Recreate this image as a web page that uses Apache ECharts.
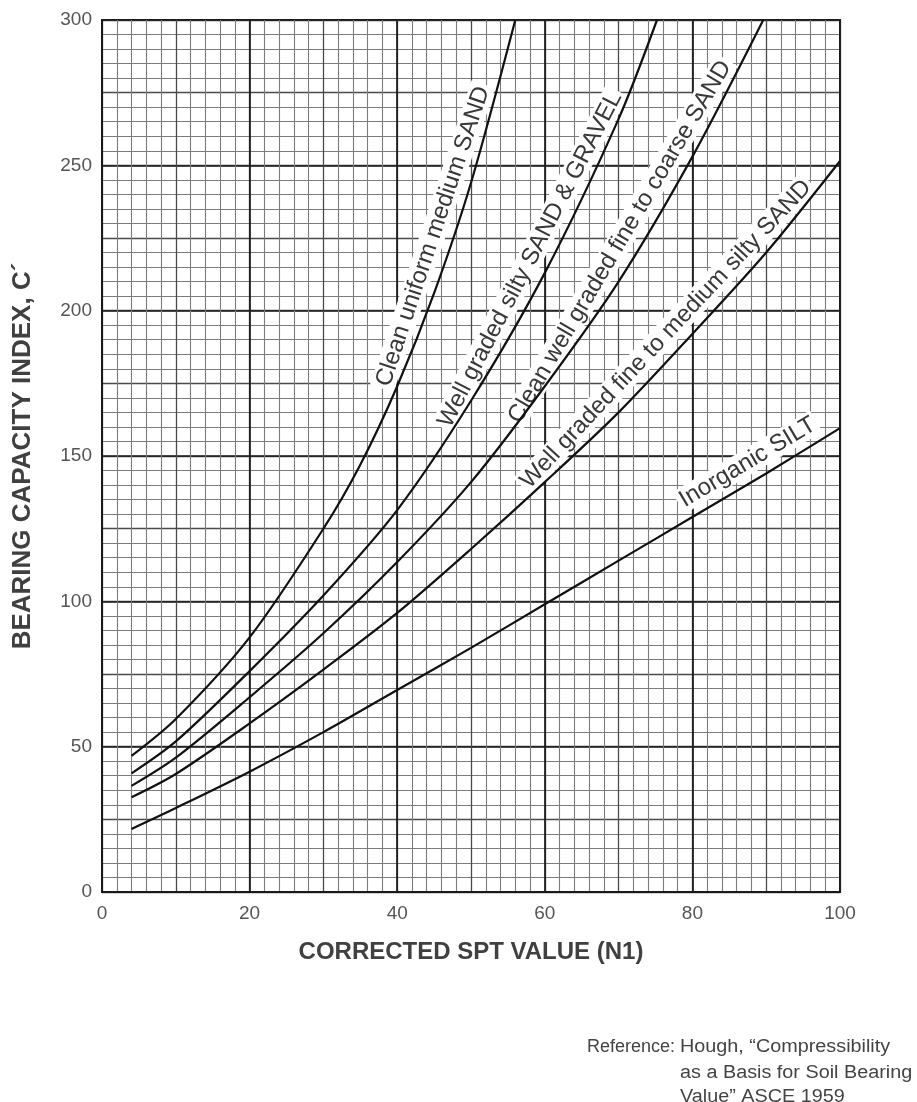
<!DOCTYPE html>
<html>
<head>
<meta charset="utf-8">
<script src="https://cdn.jsdelivr.net/npm/echarts@6/dist/echarts.min.js"></script>
<style>
html,body{margin:0;padding:0;background:#fff;}
#chart{width:917px;height:1102px;}
</style>
</head>
<body>
<div id="chart"></div>
<script>
// ---- data ----
const xTicks = [0, 20, 40, 60, 80, 100];
const yTicks = [0, 50, 100, 150, 200, 250, 300];
const seriesNames = [
  'Clean uniform medium SAND',
  'Well graded silty SAND & GRAVEL',
  'Clean well graded fine to coarse SAND',
  'Well graded fine to medium silty SAND',
  'Inorganic SILT'
];
const cleanUniformSand = [[4,46.8],[10,59.5],[20,87.6],[30,125],[35,147],[40,174],[45,206],[50,244],[56,300]];
const siltySandGravel = [[4,40.8],[10,51.8],[20,76],[30,102],[40,131.4],[50,169],[60,213],[70,266],[75.2,300]];
const wellGradedCoarseSand = [[4,36.5],[10,46.2],[20,67],[30,89],[40,113.5],[50,141],[60,174],[70,210],[80,253],[89.6,300]];
const fineMediumSiltySand = [[4,32.6],[10,40.6],[20,58],[30,76.5],[40,96],[50,118],[60,141],[70,165],[80,192],[90,220],[100,251.5]];
const inorganicSilt = [[4,21.7],[10,28.9],[20,41.4],[30,55],[40,69.5],[50,84],[60,99],[70,114],[80,129],[90,144],[100,159.6]];
const allSeries = [cleanUniformSand, siltySandGravel, wellGradedCoarseSand, fineMediumSiltySand, inorganicSilt];
// where along each curve (x value) its label is centred
const labelAtX = [47.3, 60.3, 72.4, 78.3, 88.8];
const noteLines = ['Hough, \u201CCompressibility', 'as a Basis for Soil Bearing', 'Value\u201D ASCE 1959'];

const chart = echarts.init(document.getElementById('chart'), null, {renderer: 'canvas'});
const FONT = '"Liberation Sans", Arial, Helvetica, sans-serif';

const option = {
  animation: false,
  backgroundColor: '#fff',
  grid: {show: true, left: 102, top: 20, right: 77, bottom: 210, borderColor: '#1a1a1a', borderWidth: 2, backgroundColor: 'transparent'},
  xAxis: [
    { // fine grid
      type: 'value', min: 0, max: 100, interval: 10, position: 'top',
      axisLine: {show: false}, axisTick: {show: false}, axisLabel: {show: false},
      splitLine: {show: true, lineStyle: {color: '#4a4a4a', width: 1.3}},
      minorTick: {show: false, splitNumber: 5},
      minorSplitLine: {show: true, lineStyle: {color: '#7c7c7c', width: 1.1}}
    },
    { // major grid + labels
      type: 'value', min: 0, max: 100, interval: 20, position: 'bottom',
      axisLine: {show: true, lineStyle: {color: '#1a1a1a', width: 2}},
      axisTick: {show: false},
      axisLabel: {show: true, color: '#555', fontFamily: FONT, fontSize: 19, margin: 12,
        formatter: v => xTicks.includes(v) ? String(v) : ''},
      splitLine: {show: true, lineStyle: {color: '#1a1a1a', width: 1.7}},
      name: 'CORRECTED SPT VALUE (N1)', nameLocation: 'middle', nameGap: 48,
      nameTextStyle: {color: '#404040', fontFamily: FONT, fontSize: 24, fontWeight: 'bold'}
    }
  ],
  yAxis: [
    {
      type: 'value', min: 0, max: 300, interval: 25, position: 'right',
      axisLine: {show: false}, axisTick: {show: false}, axisLabel: {show: false},
      splitLine: {show: true, lineStyle: {color: '#4a4a4a', width: 1.3}},
      minorTick: {show: false, splitNumber: 5},
      minorSplitLine: {show: true, lineStyle: {color: '#7c7c7c', width: 1.1}}
    },
    {
      type: 'value', min: 0, max: 300, interval: 50, position: 'left',
      axisLine: {show: true, lineStyle: {color: '#1a1a1a', width: 2}},
      axisTick: {show: false},
      axisLabel: {show: true, color: '#555', fontFamily: FONT, fontSize: 19, margin: 10,
        formatter: v => yTicks.includes(v) ? String(v) : ''},
      splitLine: {show: true, lineStyle: {color: '#1a1a1a', width: 1.7}},
      name: 'BEARING CAPACITY INDEX, C\u00B4', nameLocation: 'middle', nameGap: 66,
      nameTextStyle: {color: '#404040', fontFamily: FONT, fontSize: 26, fontWeight: 'bold'}
    }
  ],
  series: allSeries.map((d, i) => ({
    name: seriesNames[i],
    type: 'line',
    xAxisIndex: 1, yAxisIndex: 1,
    data: d,
    smooth: 0.3,
    showSymbol: false,
    symbol: 'none',
    lineStyle: {color: '#111', width: 2.2},
    z: 6
  }))
};
chart.setOption(option);

function interpY(data, x) {
  for (let i = 0; i < data.length - 1; i++) {
    const a = data[i], b = data[i + 1];
    if (x >= a[0] && x <= b[0]) {
      const t = (x - a[0]) / (b[0] - a[0]);
      return a[1] + t * (b[1] - a[1]);
    }
  }
  return data[data.length - 1][1];
}

const graphics = [];
allSeries.forEach((d, i) => {
  const x = labelAtX[i];
  const toPx = v => chart.convertToPixel({xAxisIndex: 1, yAxisIndex: 1}, [v, interpY(d, v)]);
  const p = toPx(x), p1 = toPx(x - 2), p2 = toPx(Math.min(x + 2, d[d.length - 1][0]));
  const theta = Math.atan2(-(p2[1] - p1[1]), p2[0] - p1[0]);
  const gap = 7;
  const ux = -Math.sin(theta), uy = -Math.cos(theta);
  graphics.push({
    type: 'text',
    x: p[0] + ux * gap,
    y: p[1] + uy * gap,
    rotation: theta,
    z: 4,
    style: {
      text: seriesNames[i],
      fill: '#383838',
      font: '24px ' + FONT,
      align: 'center',
      verticalAlign: 'bottom',
      backgroundColor: '#fff',
      padding: [1, 3, 0, 3]
    }
  });
});

// reference note
const noteFont = '18px ' + FONT;
graphics.push({type: 'text', x: 675, y: 1047, z: 10, style: {text: 'Reference:', fill: '#444', font: noteFont, align: 'right', verticalAlign: 'middle'}});
const noteY = [1047, 1073, 1097];
noteLines.forEach((t, i) => {
  graphics.push({type: 'text', x: 680, y: noteY[i], z: 10, scaleX: 1.1, style: {text: t, fill: '#444', font: noteFont, verticalAlign: 'middle'}});
});

chart.setOption({graphic: graphics});
</script>
</body>
</html>
